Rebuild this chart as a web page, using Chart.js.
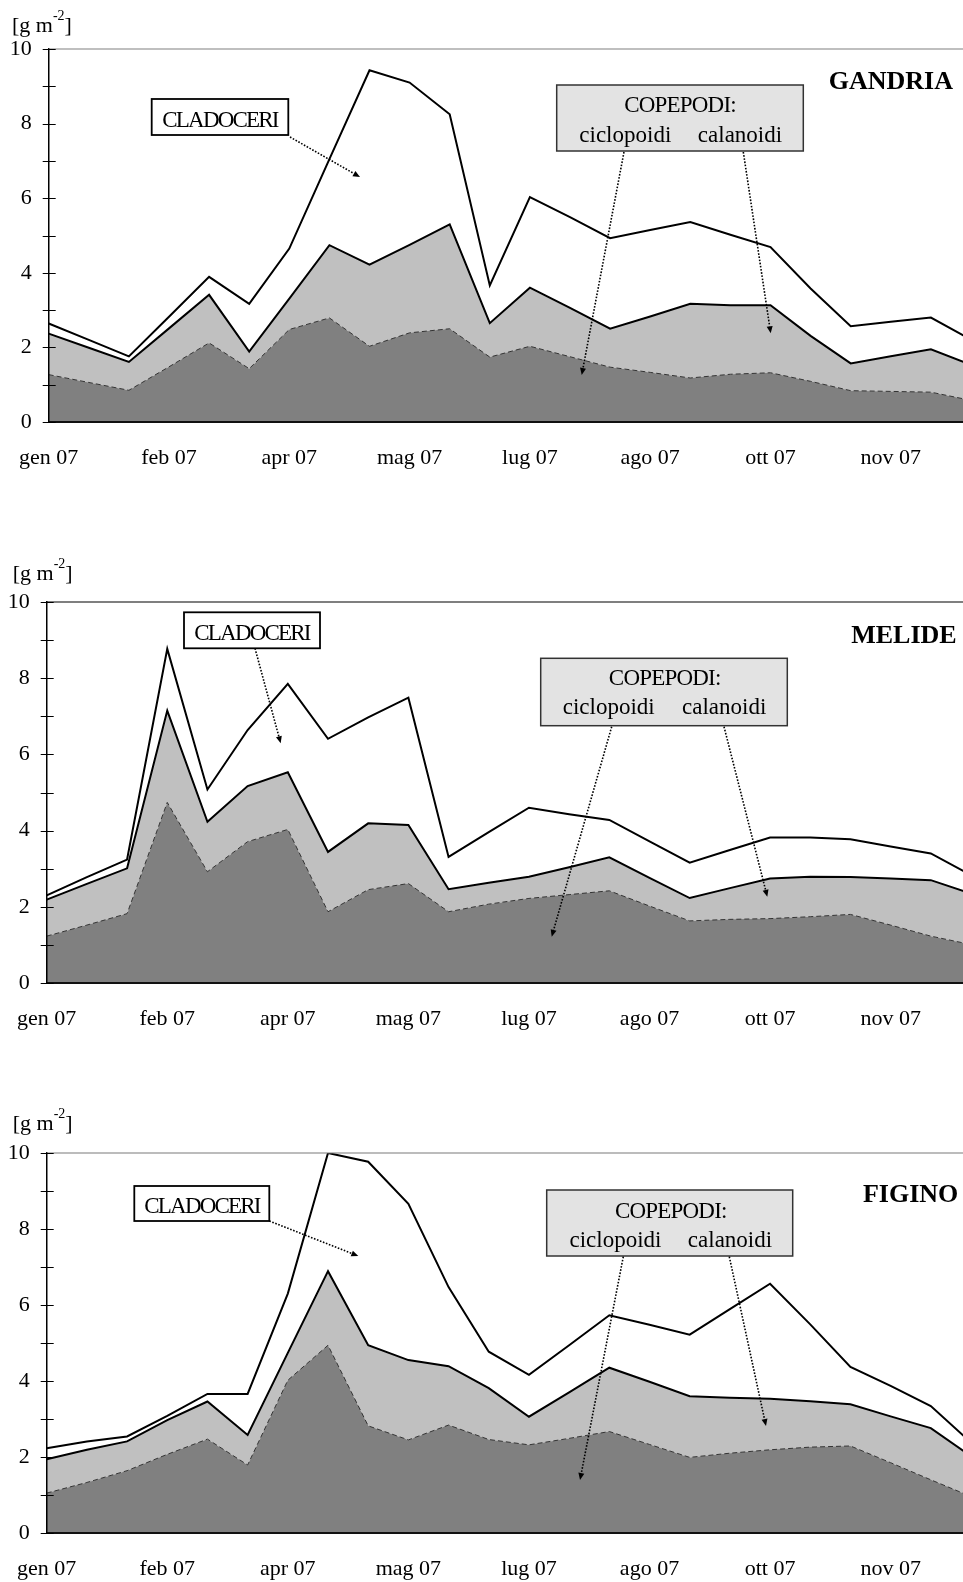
<!DOCTYPE html>
<html lang="it">
<head>
<meta charset="utf-8">
<title>Biomassa zooplancton 2007</title>
<script src="https://cdn.jsdelivr.net/npm/chart.js@4.4.1/dist/chart.umd.min.js"></script>
<style>
  html, body { margin: 0; padding: 0; background: #fff; overflow: hidden; }
  .pannello { position: absolute; left: 0; width: 971px; }
  canvas { display: block; }
</style>
</head>
<body>
<div class="pannello" style="top:0px"><canvas id="gandria" width="971" height="482"></canvas></div>
<div class="pannello" style="top:553px"><canvas id="melide" width="971" height="490"></canvas></div>
<div class="pannello" style="top:1104px"><canvas id="figino" width="971" height="489"></canvas></div>

<script>
// date dei campionamenti (etichetta solo ogni terzo prelievo)
const date = ['gen 07', '', '', 'feb 07', '', '', 'apr 07', '', '', 'mag 07', '', '',
              'lug 07', '', '', 'ago 07', '', '', 'ott 07', '', '', 'nov 07', '', ''];

// biomassa [g m-2] per gruppo, Gandria
const gandriaCiclopoidi = [1.27, 1.06, 0.85, 1.48, 2.12, 1.43, 2.48, 2.79, 2.03, 2.39, 2.50, 1.74,
                           2.03, 1.75, 1.47, 1.33, 1.18, 1.28, 1.32, 1.09, 0.84, 0.82, 0.80, 0.58];
const gandriaCalanoidi  = [1.10, 0.93, 0.76, 1.03, 1.29, 0.46, 0.83, 1.95, 2.19, 2.36, 2.80, 0.91,
                           1.57, 1.31, 1.03, 1.50, 1.99, 1.85, 1.81, 1.22, 0.73, 0.94, 1.15, 0.95];
const gandriaCladoceri  = [0.27, 0.21, 0.15, 0.31, 0.48, 1.28, 1.34, 2.31, 5.21, 4.35, 2.95, 1.01,
                           2.43, 2.43, 2.43, 2.32, 2.19, 1.89, 1.56, 1.27, 1.00, 0.93, 0.85, 0.68];

// Melide
const melideCiclopoidi = [1.23, 1.52, 1.82, 4.74, 2.92, 3.71, 4.03, 1.87, 2.45, 2.61, 1.87, 2.07,
                          2.22, 2.32, 2.42, 2.02, 1.63, 1.67, 1.69, 1.74, 1.80, 1.52, 1.23, 1.01];
const melideCalanoidi  = [0.96, 1.08, 1.19, 2.41, 1.31, 1.46, 1.50, 1.57, 1.74, 1.54, 0.59, 0.56,
                          0.57, 0.72, 0.88, 0.74, 0.60, 0.82, 1.05, 1.05, 0.98, 1.22, 1.47, 1.34];
const melideCladoceri  = [0.11, 0.18, 0.23, 1.62, 0.85, 1.47, 2.32, 2.97, 2.78, 3.34, 0.85, 1.33,
                          1.81, 1.39, 0.98, 0.96, 0.93, 1.00, 1.08, 1.03, 0.99, 0.84, 0.70, 0.48];

// Figino
const figinoCiclopoidi = [1.05, 1.33, 1.64, 2.07, 2.47, 1.79, 4.02, 4.94, 2.82, 2.45, 2.84, 2.46,
                          2.32, 2.49, 2.67, 2.33, 1.99, 2.10, 2.19, 2.26, 2.29, 1.85, 1.40, 0.96];
const figinoCalanoidi  = [0.89, 0.86, 0.77, 0.90, 0.99, 0.79, 0.72, 1.95, 2.12, 2.10, 1.55, 1.35,
                          0.74, 1.21, 1.68, 1.65, 1.61, 1.46, 1.34, 1.21, 1.10, 1.22, 1.36, 1.06];
const figinoCladoceri  = [0.29, 0.22, 0.13, 0.11, 0.20, 1.08, 1.56, 3.11, 4.83, 4.11, 2.08, 0.96,
                          1.10, 1.24, 1.38, 1.50, 1.62, 2.33, 3.03, 2.02, 0.98, 0.80, 0.58, 0.36];

const FONT = '"Liberation Serif", "Times New Roman", serif';
Chart.defaults.font.family = FONT;
Chart.defaults.color = '#000';

// impaginazione dei tre riquadri (coordinate in px del canvas)
const pannelli = [
  {
    id: 'gandria', titolo: 'GANDRIA',
    cicl: gandriaCiclopoidi, cal: gandriaCalanoidi, clad: gandriaCladoceri,
    asse: 48.7, bordo: '#808080',
    unita: [12, 32], tit: [953, 89],
    cladBox: [151.7, 99, 136.6, 36], cladTesto: [220, 126.7],
    cladFreccia: [290, 137, 360, 177],
    copBox: [556.7, 85, 246.6, 66], copTesto: [680, 111.7], cicloTesto: [625.3, 141.7], calaTesto: [740, 141.7],
    cicloFreccia: [624, 152, 581.7, 375], calaFreccia: [743.3, 152, 770.7, 333.3]
  },
  {
    id: 'melide', titolo: 'MELIDE',
    cicl: melideCiclopoidi, cal: melideCalanoidi, clad: melideCladoceri,
    asse: 46.7, bordo: '#000000',
    unita: [12.7, 27], tit: [956.7, 90.3],
    cladBox: [184, 59.3, 136, 36], cladTesto: [252, 87],
    cladFreccia: [255, 95.3, 280.7, 190.3],
    copBox: [540.7, 105.3, 246.6, 67.4], copTesto: [664.7, 132], cicloTesto: [608.7, 161], calaTesto: [724.2, 161],
    cicloFreccia: [611.7, 173.7, 551.7, 383.7], calaFreccia: [724, 173.7, 767.3, 343.7]
  },
  {
    id: 'figino', titolo: 'FIGINO',
    cicl: figinoCiclopoidi, cal: figinoCalanoidi, clad: figinoCladoceri,
    asse: 46.7, bordo: '#7a7a7a',
    unita: [12.7, 26], tit: [958.3, 97.7],
    cladBox: [134.3, 82, 135, 35], cladTesto: [202, 109.3],
    cladFreccia: [269.3, 117, 358.3, 152],
    copBox: [546.7, 86, 246, 66], copTesto: [670.8, 114.3], cicloTesto: [615.5, 142.7], calaTesto: [730, 142.7],
    cicloFreccia: [623.3, 152.7, 580, 376], calaFreccia: [729.3, 152.7, 766, 322]
  }
];

function freccia(ctx, x1, y1, x2, y2) {
  const ang = Math.atan2(y2 - y1, x2 - x1);
  const lx = x2 - 7 * Math.cos(ang), ly = y2 - 7 * Math.sin(ang);
  ctx.save();
  ctx.strokeStyle = '#000';
  ctx.lineWidth = 1.6;
  ctx.setLineDash([1.6, 1.6]);
  ctx.beginPath();
  ctx.moveTo(x1, y1);
  ctx.lineTo(lx, ly);
  ctx.stroke();
  ctx.setLineDash([]);
  ctx.fillStyle = '#000';
  ctx.beginPath();
  ctx.moveTo(x2, y2);
  ctx.lineTo(lx + 3 * Math.sin(ang), ly - 3 * Math.cos(ang));
  ctx.lineTo(lx - 3 * Math.sin(ang), ly + 3 * Math.cos(ang));
  ctx.closePath();
  ctx.fill();
  ctx.restore();
}

function decorazioni(p) {
  return {
    id: 'decorazioni',
    afterDraw(chart) {
      const ctx = chart.ctx;
      const area = chart.chartArea;
      const y = chart.scales.y;
      ctx.save();

      // bordo superiore dell'area del grafico
      ctx.strokeStyle = p.bordo;
      ctx.lineWidth = 1.2;
      ctx.beginPath();
      ctx.moveTo(area.left, area.top);
      ctx.lineTo(area.right, area.top);
      ctx.stroke();

      // tacche sull'asse y, una per unità
      ctx.strokeStyle = '#000';
      ctx.lineWidth = 1;
      for (let v = 0; v <= 10; v++) {
        const py = Math.round(y.getPixelForValue(v)) + 0.5;
        ctx.beginPath();
        ctx.moveTo(area.left - 6, py);
        ctx.lineTo(area.left + 7, py);
        ctx.stroke();
      }

      // unità di misura
      ctx.fillStyle = '#000';
      ctx.textAlign = 'left';
      ctx.textBaseline = 'alphabetic';
      ctx.font = '22px ' + FONT;
      ctx.fillText('[g m', p.unita[0], p.unita[1]);
      let w = ctx.measureText('[g m').width;
      ctx.font = '14px ' + FONT;
      ctx.fillText('-2', p.unita[0] + w, p.unita[1] - 12);
      w += ctx.measureText('-2').width;
      ctx.font = '22px ' + FONT;
      ctx.fillText(']', p.unita[0] + w, p.unita[1]);

      // nome della stazione
      ctx.font = 'bold 26px ' + FONT;
      ctx.textAlign = 'right';
      ctx.fillText(p.titolo, p.tit[0], p.tit[1]);

      // riquadro cladoceri
      ctx.fillStyle = '#fff';
      ctx.fillRect(...p.cladBox);
      ctx.strokeStyle = '#000';
      ctx.lineWidth = 1.8;
      ctx.strokeRect(...p.cladBox);
      ctx.fillStyle = '#000';
      ctx.textAlign = 'center';
      ctx.font = '23px ' + FONT;
      ctx.letterSpacing = '-1.8px';
      ctx.fillText('CLADOCERI', p.cladTesto[0], p.cladTesto[1]);

      // riquadro copepodi
      ctx.fillStyle = '#e3e3e3';
      ctx.fillRect(...p.copBox);
      ctx.strokeStyle = '#333';
      ctx.lineWidth = 1.5;
      ctx.strokeRect(...p.copBox);
      ctx.fillStyle = '#000';
      ctx.letterSpacing = '-0.8px';
      ctx.fillText('COPEPODI:', p.copTesto[0], p.copTesto[1]);
      ctx.letterSpacing = '0px';
      ctx.fillText('ciclopoidi', p.cicloTesto[0], p.cicloTesto[1]);
      ctx.fillText('calanoidi', p.calaTesto[0], p.calaTesto[1]);
      ctx.restore();

      freccia(ctx, ...p.cladFreccia);
      freccia(ctx, ...p.cicloFreccia);
      freccia(ctx, ...p.calaFreccia);
    }
  };
}

pannelli.forEach(p => {
  new Chart(document.getElementById(p.id), {
    type: 'line',
    data: {
      labels: date,
      datasets: [
        {
          label: 'ciclopoidi',
          data: p.cicl,
          fill: 'origin',
          backgroundColor: '#808080',
          borderColor: '#333',
          borderWidth: 1,
          borderDash: [5, 3]
        },
        {
          label: 'calanoidi',
          data: p.cal,
          fill: '-1',
          backgroundColor: '#c0c0c0',
          borderColor: '#000',
          borderWidth: 2
        },
        {
          label: 'cladoceri',
          data: p.clad,
          fill: '-1',
          backgroundColor: '#ffffff',
          borderColor: '#000',
          borderWidth: 2
        }
      ]
    },
    options: {
      responsive: false,
      animation: false,
      events: [],
      elements: { point: { radius: 0 }, line: { tension: 0 } },
      layout: { padding: { top: 49, right: 0, left: 0, bottom: 0 } },
      plugins: { legend: { display: false }, tooltip: { enabled: false } },
      scales: {
        x: {
          offset: false,
          // tacche invisibili: servono solo a distanziare le etichette dall'asse
          grid: { drawOnChartArea: false, drawTicks: true, tickLength: 23, tickColor: 'rgba(0,0,0,0)' },
          border: { color: '#111', width: 2, z: 1 },
          ticks: { autoSkip: false, maxRotation: 0, minRotation: 0, padding: 0, font: { size: 22 } },
          afterFit: s => { s.height = 60; }
        },
        y: {
          stacked: true,
          min: 0,
          max: 10,
          grid: { drawOnChartArea: false, drawTicks: false },
          border: { color: '#000', width: 1.5, z: 1 },
          ticks: { stepSize: 2, padding: 17, font: { size: 22 } },
          afterFit: s => { s.width = p.asse; }
        }
      }
    },
    plugins: [decorazioni(p)]
  });
});
</script>
</body>
</html>
